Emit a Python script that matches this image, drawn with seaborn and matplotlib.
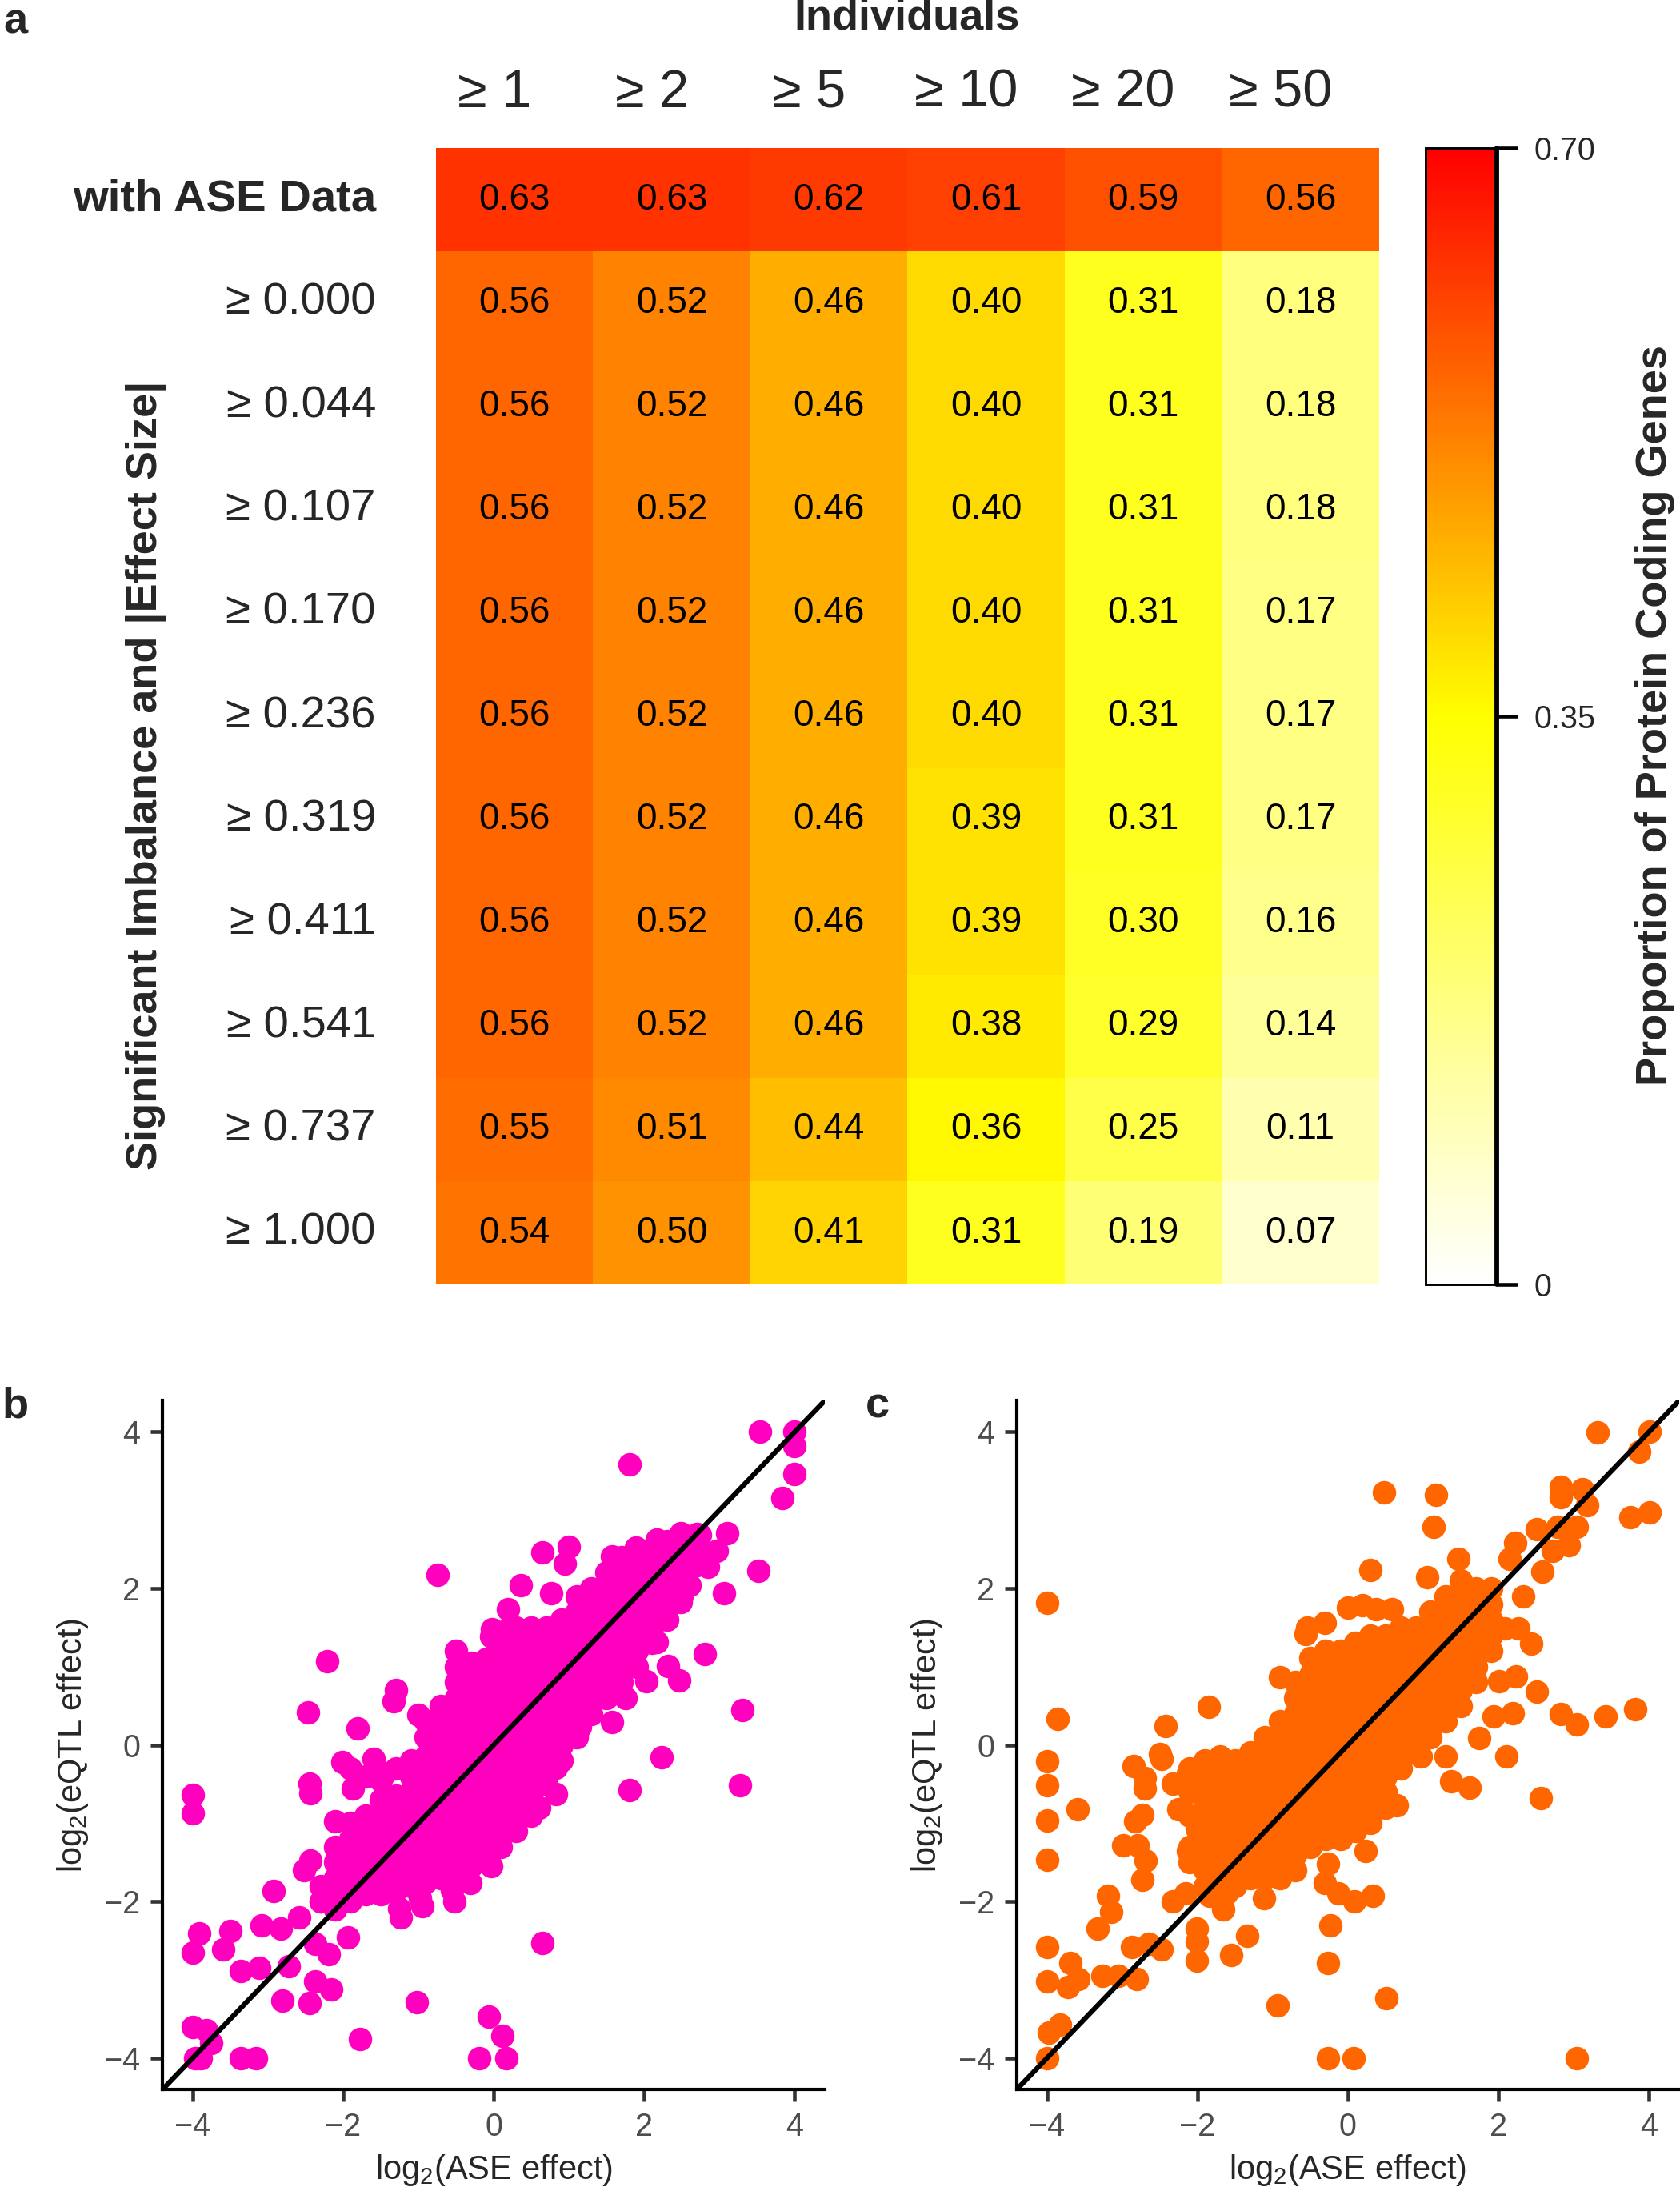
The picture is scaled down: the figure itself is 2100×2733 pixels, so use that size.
import matplotlib
matplotlib.use('Agg')
import matplotlib.pyplot as plt
import matplotlib.transforms as mtransforms
from matplotlib.colors import LinearSegmentedColormap
import pandas as pd
import seaborn as sns

# panel a: proportion of protein coding genes
individuals = ['≥ 1', '≥ 2', '≥ 5', '≥ 10', '≥ 20', '≥ 50']
thresholds = ['with ASE Data', '≥ 0.000', '≥ 0.044', '≥ 0.107', '≥ 0.170', '≥ 0.236',
              '≥ 0.319', '≥ 0.411', '≥ 0.541', '≥ 0.737', '≥ 1.000']
proportions = [
    [0.63, 0.63, 0.62, 0.61, 0.59, 0.56],
    [0.56, 0.52, 0.46, 0.40, 0.31, 0.18],
    [0.56, 0.52, 0.46, 0.40, 0.31, 0.18],
    [0.56, 0.52, 0.46, 0.40, 0.31, 0.18],
    [0.56, 0.52, 0.46, 0.40, 0.31, 0.17],
    [0.56, 0.52, 0.46, 0.40, 0.31, 0.17],
    [0.56, 0.52, 0.46, 0.39, 0.31, 0.17],
    [0.56, 0.52, 0.46, 0.39, 0.30, 0.16],
    [0.56, 0.52, 0.46, 0.38, 0.29, 0.14],
    [0.55, 0.51, 0.44, 0.36, 0.25, 0.11],
    [0.54, 0.50, 0.41, 0.31, 0.19, 0.07],
]

# panel b: ASE vs eQTL effect (scattered points)
b_out_x = [3.54, 4.0, 4.0, 4.0, 3.84, 1.81, -0.75, 3.52, 3.06, 2.81, 2.32, 2.47, 3.30, 3.27,
           2.23, 1.81, 1.57, 0.65, -0.06, 0.12, 0.17, -0.19, -1.02, -1.78, -2.21, -2.47,
           -1.81, -1.30, -1.33, -1.0, -4.0, -4.0, -2.44, -2.43, -2.10, -2.52, -2.92, -4.0,
           -3.91, -3.50, -3.59, -3.36, -3.11, -3.08, -2.83, -2.72, -2.81, -2.58, -2.44, -2.37,
           -2.16, -2.37, -2.19, -1.93, -1.23, -0.95, -0.52, -4.0, -3.82, -3.96, -3.89, -3.36,
           -3.16, -3.75, -2.30, -2.26, -2.01, 0.65, 1.0, 0.95, 0.36, 0.76, 0.19, -0.03, 0.19,
           3.10, 2.49, 2.74, 2.17, 2.96, 2.85, 2.60, 2.49, 1.57, 1.89, 1.75, 2.17, 2.03, 1.75,
           1.15, 0.90, 0.72, 0.83, 0.61, -0.31, -0.03, -0.45, -0.31, -1.45, -1.59, -2.01,
           -1.87, 0.54, 0.83, 0.40, -2.43, -1.26, -0.98, -0.55, -0.02, 0.19]
b_out_y = [4.0, 4.0, 3.82, 3.46, 3.15, 3.58, 2.17, 2.23, 1.94, 1.16, 1.01, 0.82, 0.45, -0.51,
           -0.16, -0.58, 0.29, -2.53, -3.47, -3.71, -4.0, -4.0, -3.28, -3.76, 1.07, 0.42,
           0.21, 0.70, 0.56, 0.38, -0.64, -0.87, -0.49, -0.62, -0.97, -1.60, -1.86, -2.65,
           -2.41, -2.37, -2.61, -2.89, -2.85, -2.30, -2.34, -2.82, -3.26, -2.20, -3.30, -3.02,
           -3.12, -2.54, -2.67, -2.46, -2.20, -2.06, -2.0, -3.60, -3.64, -4.0, -4.0, -4.0,
           -4.0, -3.81, -2.0, -1.83, -1.93, 2.46, 2.53, 2.32, 2.04, 1.94, 1.73, 1.39, 1.39,
           2.71, 2.71, 2.69, 2.62, 2.48, 2.28, 2.04, 1.83, 2.41, 2.52, 2.17, 1.32, 0.81, 0.60,
           0.23, 0.12, -0.22, -0.63, -0.80, -1.76, -1.55, -1.65, -1.45, -0.36, -0.18, -0.22,
           -0.56, -0.56, -0.29, -0.83, -1.48, -2.09, -1.96, -1.85, 1.48, 1.48]
# panel b: dense core, one column of y values per x
b_core_x = [-2.3, -2.1, -1.9, -1.7, -1.5, -1.3, -1.1, -0.9, -0.7, -0.5, -0.3, -0.1, 0.1, 0.3,
            0.5, 0.7, 0.9, 1.1, 1.3, 1.5, 1.7, 1.9, 2.1, 2.3, 2.5, 2.7]
b_core_y = [
    [-2.0, -1.8],
    [-2.1, -1.9, -1.7, -1.5, -1.3],
    [-2.0, -1.8, -1.6, -1.4, -1.2, -1.0, -0.3],
    [-1.9, -1.7, -1.5, -1.3, -1.1, -0.9, -0.4],
    [-1.9, -1.7, -1.5, -1.3, -1.1, -0.9, -0.7, -0.45],
    [-1.85, -1.65, -1.45, -1.25, -1.05, -0.85, -0.65, -0.3],
    [-1.8, -1.6, -1.4, -1.2, -1.0, -0.8, -0.6, -0.4, -0.2],
    [-1.75, -1.55, -1.35, -1.15, -0.95, -0.75, -0.55, -0.35, -0.15, 0.1, 0.3],
    [-1.7, -1.5, -1.3, -1.1, -0.9, -0.7, -0.5, -0.3, -0.1, 0.1, 0.3, 0.5],
    [-1.6, -1.4, -1.2, -1.0, -0.8, -0.6, -0.4, -0.2, 0.0, 0.2, 0.4, 0.6, 0.8, 1.0, 1.2],
    [-1.55, -1.35, -1.15, -0.95, -0.75, -0.55, -0.35, -0.15, 0.05, 0.25, 0.45, 0.65, 0.85, 1.05],
    [-1.5, -1.3, -1.1, -0.9, -0.7, -0.5, -0.3, -0.1, 0.1, 0.3, 0.5, 0.7, 0.9, 1.1],
    [-1.3, -1.1, -0.9, -0.7, -0.5, -0.3, -0.1, 0.1, 0.3, 0.5, 0.7, 0.9, 1.1, 1.3],
    [-1.1, -0.9, -0.7, -0.5, -0.3, -0.1, 0.1, 0.3, 0.5, 0.7, 0.9, 1.1, 1.3, 1.5],
    [-0.9, -0.7, -0.5, -0.3, -0.1, 0.1, 0.3, 0.5, 0.7, 0.9, 1.1, 1.3, 1.5],
    [-0.5, -0.3, -0.1, 0.1, 0.3, 0.5, 0.7, 0.9, 1.1, 1.3, 1.5],
    [-0.2, 0.0, 0.2, 0.4, 0.6, 0.8, 1.0, 1.2, 1.4, 1.6],
    [0.1, 0.3, 0.5, 0.7, 0.9, 1.1, 1.3, 1.5, 1.7, 1.9],
    [0.4, 0.6, 0.8, 1.0, 1.2, 1.4, 1.6, 1.8, 2.0],
    [0.6, 0.8, 1.0, 1.2, 1.4, 1.6, 1.8, 2.0, 2.2],
    [0.8, 1.0, 1.2, 1.4, 1.6, 1.8, 2.0, 2.2, 2.4],
    [1.0, 1.2, 1.4, 1.6, 1.8, 2.0, 2.2, 2.4],
    [1.3, 1.5, 1.7, 1.9, 2.1, 2.3, 2.5],
    [1.6, 1.8, 2.0, 2.2, 2.4, 2.6],
    [1.9, 2.1, 2.3, 2.5, 2.7],
    [2.3, 2.5, 2.7],
]

# panel c
c_out_x = [3.32, 4.01, 3.87, 3.75, 4.01, 2.83, 2.83, 3.11, 3.18, 3.04, 2.79, 2.51, 2.93, 2.72,
           2.58, 2.22, 2.15, 2.33, 2.08, 2.26, 2.43, 2.01, 2.23, 2.51, 1.94, 2.19, 2.83, 3.04,
           3.42, 3.82, 1.74, 2.11, 1.37, 1.62, 2.56, 0.48, 1.17, 1.14, 0.30, 1.47, 1.05, 0.0,
           -0.31, -0.56, 0.37, 0.58, -0.90, -0.50, -1.85, -2.42, -4.0, -3.86, -4.0, -4.0, -4.0,
           -4.0, -3.59, -2.85, -2.70, -2.70, -2.48, -2.33, -2.12, -2.25, -2.83, -2.73, -2.99,
           -2.79, -2.69, -2.73, -2.12, -2.01, -4.0, -4.0, -3.69, -3.58, -3.72, -3.97, -3.83,
           -4.0, -3.33, -3.15, -3.19, -3.26, -3.05, -2.87, -2.65, -2.80, -2.48, -2.33, -2.16,
           -2.01, -2.01, -2.01, -1.84, -1.66, -1.55, -1.34, -1.11, -0.93, -0.26, -0.31, -0.23,
           -0.26, -0.13, 0.09, 0.33, 0.23, 0.51, -0.27, 0.07, 3.04, 0.65, 0.97, 1.30, -2.5,
           -1.62, -0.54, 0.19]
c_out_y = [3.99, 4.0, 3.75, 2.91, 2.97, 3.30, 3.17, 3.27, 3.06, 2.79, 2.79, 2.76, 2.55, 2.48,
           2.21, 2.58, 2.38, 1.90, 1.49, 1.49, 1.29, 0.81, 0.88, 0.68, 0.36, 0.41, 0.40, 0.26,
           0.36, 0.46, 0.09, -0.15, -0.46, -0.55, -0.68, 3.23, 3.20, 2.79, 2.24, 2.38, 2.14,
           1.75, 1.56, 1.42, 1.73, 1.73, 0.87, 1.11, 0.49, 0.24, 1.82, 0.33, -0.21, -0.51,
           -0.96, -1.47, -0.82, -0.27, -0.42, -0.56, -0.18, -0.49, -0.36, -0.82, -0.97, -0.89,
           -1.28, -1.28, -1.48, -1.72, -1.35, -1.07, -2.58, -3.02, -2.78, -2.99, -3.09, -3.67,
           -3.57, -4.0, -2.34, -2.13, -1.93, -2.95, -2.95, -2.58, -2.54, -2.99, -2.61, -2.0,
           -1.89, -2.34, -2.51, -2.75, -1.93, -2.10, -2.68, -2.44, -1.96, -3.33, -1.52, -1.76,
           -2.30, -2.78, -1.89, -2.0, -1.93, -1.35, -3.23, -4.0, -4.0, -4.0, -0.77, -0.15,
           -0.15, -0.12, -1.89, 1.50, 1.79]
c_core_x = [-2.1, -1.9, -1.7, -1.5, -1.3, -1.1, -0.9, -0.7, -0.5, -0.3, -0.1, 0.1, 0.3, 0.5,
            0.7, 0.9, 1.1, 1.3, 1.5, 1.7, 1.9]
c_core_y = [
    [-1.5, -1.3, -0.9, -0.6, -0.3],
    [-1.8, -1.6, -1.4, -1.2, -1.0, -0.8, -0.6, -0.4, -0.2],
    [-1.7, -1.5, -1.3, -1.1, -0.9, -0.7, -0.5, -0.3, -0.15],
    [-1.8, -1.6, -1.4, -1.2, -1.0, -0.8, -0.6, -0.4, -0.2],
    [-1.7, -1.5, -1.3, -1.1, -0.9, -0.7, -0.5, -0.3, -0.1],
    [-1.7, -1.5, -1.3, -1.1, -0.9, -0.7, -0.5, -0.3, -0.1, 0.1],
    [-1.7, -1.5, -1.3, -1.1, -0.9, -0.7, -0.5, -0.3, -0.1, 0.1, 0.3],
    [-1.6, -1.4, -1.2, -1.0, -0.8, -0.6, -0.4, -0.2, 0.0, 0.2, 0.4, 0.6, 0.8],
    [-1.3, -1.1, -0.9, -0.7, -0.5, -0.3, -0.1, 0.1, 0.3, 0.5, 0.7, 0.9],
    [-1.2, -1.0, -0.8, -0.6, -0.4, -0.2, 0.0, 0.2, 0.4, 0.6, 0.8, 1.0, 1.2],
    [-1.2, -1.0, -0.8, -0.6, -0.4, -0.2, 0.0, 0.2, 0.4, 0.6, 0.8, 1.0, 1.2],
    [-1.1, -0.9, -0.7, -0.5, -0.3, -0.1, 0.1, 0.3, 0.5, 0.7, 0.9, 1.1, 1.3],
    [-1.0, -0.8, -0.6, -0.4, -0.2, 0.0, 0.2, 0.4, 0.6, 0.8, 1.0, 1.2, 1.4],
    [-0.8, -0.6, -0.4, -0.2, 0.0, 0.2, 0.4, 0.6, 0.8, 1.0, 1.2, 1.4],
    [-0.3, -0.1, 0.1, 0.3, 0.5, 0.7, 0.9, 1.1, 1.3, 1.5],
    [-0.1, 0.1, 0.3, 0.5, 0.7, 0.9, 1.1, 1.3, 1.5],
    [0.1, 0.3, 0.5, 0.7, 0.9, 1.1, 1.3, 1.5, 1.7],
    [0.3, 0.5, 0.7, 0.9, 1.1, 1.3, 1.5, 1.7, 1.9],
    [0.5, 0.7, 0.9, 1.1, 1.3, 1.5, 1.7, 1.9, 2.1],
    [0.8, 1.0, 1.2, 1.4, 1.6, 1.8, 2.0],
    [1.2, 1.4, 1.6, 1.8, 2.0],
]


def points(out_x, out_y, core_x, core_y):
    xs = list(out_x)
    ys = list(out_y)
    for x, col in zip(core_x, core_y):
        xs += [x] * len(col)
        ys += col
    return pd.DataFrame({'ase': xs, 'eqtl': ys})


def scatter(fig, rect, df, color, letter, lx):
    ax = fig.add_axes(rect)
    sns.scatterplot(data=df, x='ase', y='eqtl', color=color, s=50, linewidth=0, ax=ax)
    ax.axline((0, 0), slope=1, color='black', lw=1.5)
    ax.set_xlim(-4.4, 4.4)
    ax.set_ylim(-4.4, 4.4)
    ax.set_xticks([-4, -2, 0, 2, 4])
    ax.set_yticks([-4, -2, 0, 2, 4])
    ax.tick_params(length=3.7, width=1.1, color='#333333', labelcolor='#4D4D4D',
                   labelsize=9.5, pad=3)
    ax.set_xlabel(r'log$_\mathregular{2}$(ASE effect)', fontsize=10, labelpad=3)
    ax.set_ylabel(r'log$_\mathregular{2}$(eQTL effect)', fontsize=10, labelpad=4)
    for s in ['top', 'right']:
        ax.spines[s].set_visible(False)
    for s in ['left', 'bottom']:
        ax.spines[s].set_linewidth(1.0)
        ax.spines[s].set_color('black')
    fig.text(lx, 0.366, letter, fontsize=13, fontweight='bold', va='top')
    return ax


def main():
    sns.set_style('ticks')
    plt.rcParams['font.family'] = ['Liberation Sans', 'DejaVu Sans']
    plt.rcParams['axes.unicode_minus'] = True

    fig = plt.figure(figsize=(7, 9.11), dpi=300)

    # heatmap
    heat = pd.DataFrame(proportions, index=thresholds, columns=individuals)
    cmap = LinearSegmentedColormap.from_list('wyr', ['#FFFFFF', '#FFFF00', '#FF0000'])
    ax = fig.add_axes([0.2595, 0.4127, 0.5614, 0.5196])
    cax = fig.add_axes([0.8486, 0.4127, 0.0424, 0.5196])
    sns.heatmap(heat, ax=ax, cbar_ax=cax, cmap=cmap, vmin=0, vmax=0.7, annot=True,
                fmt='.2f', annot_kws={'color': 'black', 'fontsize': 11}, linewidths=0)
    ax.xaxis.tick_top()
    ax.tick_params(axis='x', length=0, pad=9, labelsize=16, rotation=0)
    ax.tick_params(axis='y', length=0, pad=18, labelsize=13.5, rotation=0)
    ax.set_xlabel('')
    ax.set_ylabel('')
    ax.get_yticklabels()[0].set_fontweight('bold')
    shift = mtransforms.ScaledTranslation(-25 / 300, 0, fig.dpi_scale_trans)
    for lab in ax.get_xticklabels():
        lab.set_transform(lab.get_transform() + shift)

    cbar = ax.collections[0].colorbar
    cbar.set_ticks([0, 0.35, 0.70])
    cbar.set_ticklabels(['0', '0.35', '0.70'])
    cbar.ax.tick_params(length=6.2, width=1.1, labelsize=9.5, pad=5, color='black')
    cbar.outline.set_linewidth(0.7)
    cbar.outline.set_edgecolor('black')
    cax.plot([1, 1], [0, 1], transform=cax.transAxes, color='black', lw=1.4, clip_on=False)

    fig.text(0.540, 0.9916, 'Individuals', fontsize=13, fontweight='bold',
             ha='center', va='center')
    fig.text(0.087, 0.6455, 'Significant Imbalance and |Effect Size|', fontsize=13,
             fontweight='bold', rotation=90, ha='center', va='center')
    fig.text(0.985, 0.673, 'Proportion of Protein Coding Genes', fontsize=13,
             fontweight='bold', rotation=90, ha='center', va='center')
    fig.text(0.002, 0.999, 'a', fontsize=13, fontweight='bold', va='top')

    # scatter panels
    df_b = points(b_out_x, b_out_y, b_core_x, b_core_y)
    df_c = points(c_out_x, c_out_y, c_core_x, c_core_y)
    scatter(fig, [0.0967, 0.0446, 0.3943, 0.3150], df_b, '#FF00BF', 'b', 0.001)
    scatter(fig, [0.6052, 0.0446, 0.3943, 0.3150], df_c, '#FF6600', 'c', 0.515)

    fig.savefig('out.png', dpi=300)


if __name__ == "__main__":
    main()
